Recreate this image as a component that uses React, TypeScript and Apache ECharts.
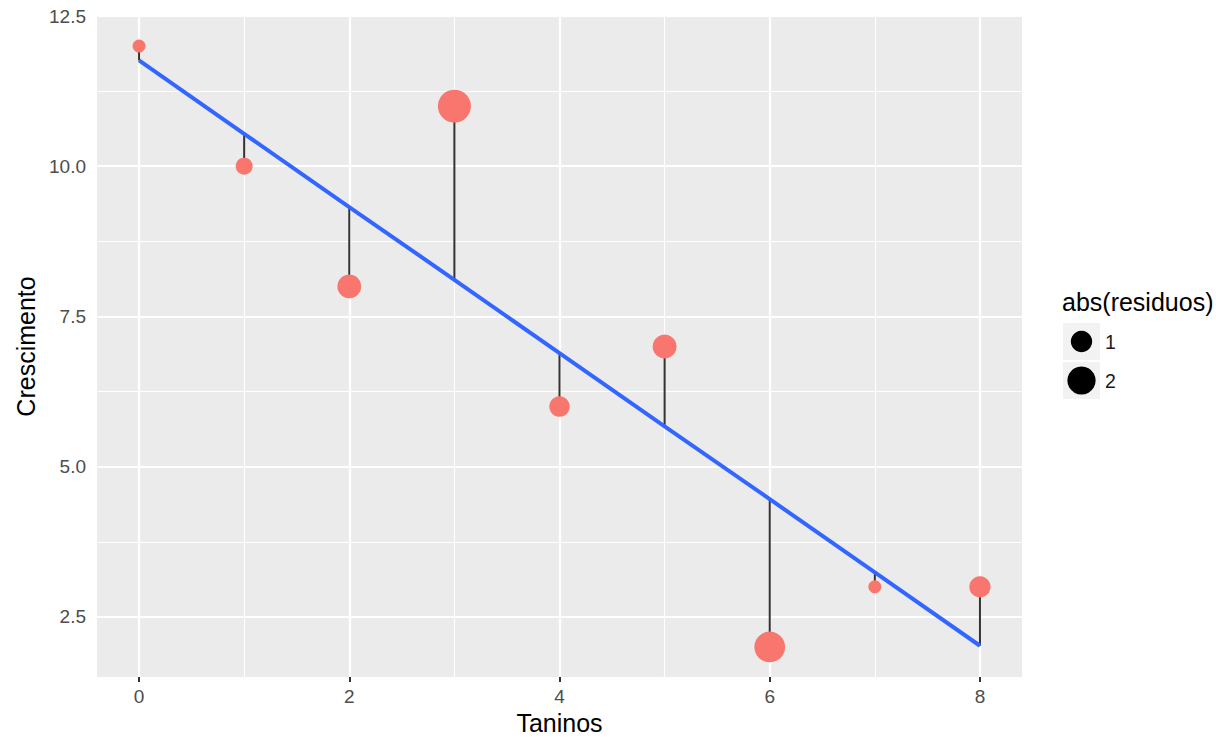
import React, { useEffect, useRef } from "react";
import * as echarts from "echarts";

// Data
const taninos = [0, 1, 2, 3, 4, 5, 6, 7, 8];
const crescimento = [12, 10, 8, 11, 6, 7, 2, 3, 3];
const ajustado = [11.76, 10.54, 9.32, 8.11, 6.89, 5.67, 4.46, 3.24, 2.02];

// Axis ticks / grid
const xMajor = [0, 2, 4, 6, 8];
const xMinor = [1, 3, 5, 7];
const yMajor = [2.5, 5, 7.5, 10, 12.5];
const yMinor = [3.75, 6.25, 8.75, 11.25];

// Legend
const legendTitle = "abs(residuos)";
const legendValues = [1, 2];

const FONT = "'Liberation Sans', Arial, Helvetica, sans-serif";
const POINT_COLOR = "#F8766D";

const sizeFor = (v: number) => 4.9 + 16.5 * Math.sqrt(v);

export default function App() {
  const ref = useRef<HTMLDivElement>(null);

  useEffect(() => {
    if (!ref.current) return;
    const chart = echarts.init(ref.current, null, { renderer: "svg" });

    const absRes = crescimento.map((y, i) => Math.abs(y - ajustado[i]));

    const gridLines = [
      ...xMajor.map((v) => ({ xAxis: v, lineStyle: { width: 2.2 } })),
      ...xMinor.map((v) => ({ xAxis: v, lineStyle: { width: 1.1 } })),
      ...yMajor.map((v) => ({ yAxis: v, lineStyle: { width: 2.2 } })),
      ...yMinor.map((v) => ({ yAxis: v, lineStyle: { width: 1.1 } })),
    ];

    const legendTop = 323;
    const keySize = 37;
    const keyGap = 2;
    const legendGraphics: any[] = [
      {
        type: "text",
        left: 1062,
        top: 289,
        style: {
          text: legendTitle,
          font: `25px ${FONT}`,
          fill: "#000",
        },
      },
    ];
    legendValues.forEach((v, i) => {
      const y0 = legendTop + i * (keySize + keyGap);
      legendGraphics.push({
        type: "rect",
        shape: { x: 1063, y: y0, width: keySize, height: keySize },
        style: { fill: "#F2F2F2" },
      });
      legendGraphics.push({
        type: "circle",
        shape: { cx: 1063 + keySize / 2, cy: y0 + keySize / 2, r: sizeFor(v) / 2 },
        style: { fill: "#000" },
      });
      legendGraphics.push({
        type: "text",
        x: 1105,
        y: y0 + keySize / 2,
        style: {
          text: String(v),
          font: `19.5px ${FONT}`,
          fill: "#1A1A1A",
          verticalAlign: "middle",
          align: "left",
        },
      });
    });

    chart.setOption({
      animation: false,
      backgroundColor: "#FFFFFF",
      grid: {
        left: 97,
        right: 1216 - 1022,
        top: 16,
        bottom: 742 - 677,
        show: true,
        backgroundColor: "#EBEBEB",
        borderWidth: 0,
      },
      xAxis: {
        type: "value",
        min: -0.4,
        max: 8.4,
        name: "Taninos",
        nameLocation: "middle",
        nameGap: 32,
        nameTextStyle: { fontSize: 25, fontFamily: FONT, color: "#000" },
        axisLine: { show: false },
        axisTick: {
          show: true,
          customValues: xMajor,
          length: 5,
          lineStyle: { color: "#333333", width: 2 },
        },
        axisLabel: {
          customValues: xMajor,
          margin: 10,
          fontSize: 19,
          fontFamily: FONT,
          color: "#4D4D4D",
        },
        splitLine: { show: false },
      },
      yAxis: {
        type: "value",
        min: 1.5,
        max: 12.5,
        name: "Crescimento",
        nameLocation: "middle",
        nameGap: 59,
        nameTextStyle: { fontSize: 25, fontFamily: FONT, color: "#000" },
        axisLine: { show: false },
        axisTick: {
          show: true,
          customValues: yMajor,
          length: 5,
          lineStyle: { color: "#333333", width: 2 },
        },
        axisLabel: {
          customValues: yMajor,
          margin: 11,
          fontSize: 19,
          fontFamily: FONT,
          color: "#4D4D4D",
          formatter: (v: number) => v.toFixed(1),
        },
        splitLine: { show: false },
      },
      graphic: legendGraphics,
      series: [
        {
          type: "scatter",
          data: [],
          z: 1,
          silent: true,
          markLine: {
            z: 1,
            silent: true,
            symbol: ["none", "none"],
            label: { show: false },
            emphasis: { disabled: true },
            animation: false,
            lineStyle: { color: "#FFFFFF", type: "solid", opacity: 1 },
            data: gridLines,
          },
        },
        {
          type: "custom",
          z: 2,
          silent: true,
          data: taninos.map((t, i) => [t, crescimento[i], ajustado[i]]),
          encode: { x: 0, y: [1, 2] },
          renderItem: (params: any, api: any) => {
            const p0 = api.coord([api.value(0), api.value(1)]);
            const p1 = api.coord([api.value(0), api.value(2)]);
            return {
              type: "line",
              shape: { x1: p0[0], y1: p0[1], x2: p1[0], y2: p1[1] },
              style: { stroke: "#333333", lineWidth: 2 },
            };
          },
        },
        {
          type: "scatter",
          z: 3,
          silent: true,
          data: taninos.map((t, i) => [t, crescimento[i], absRes[i]]),
          symbolSize: (val: number[]) => sizeFor(val[2]),
          itemStyle: { color: POINT_COLOR, opacity: 1 },
        },
        {
          type: "line",
          z: 4,
          silent: true,
          data: taninos.map((t, i) => [t, ajustado[i]]),
          showSymbol: false,
          symbol: "none",
          lineStyle: { color: "#3366FF", width: 4 },
        },
      ],
    });

    return () => chart.dispose();
  }, []);

  return (
    <div
      ref={ref}
      style={{ position: "fixed", left: 0, top: 0, width: 1216, height: 742 }}
    />
  );
}
